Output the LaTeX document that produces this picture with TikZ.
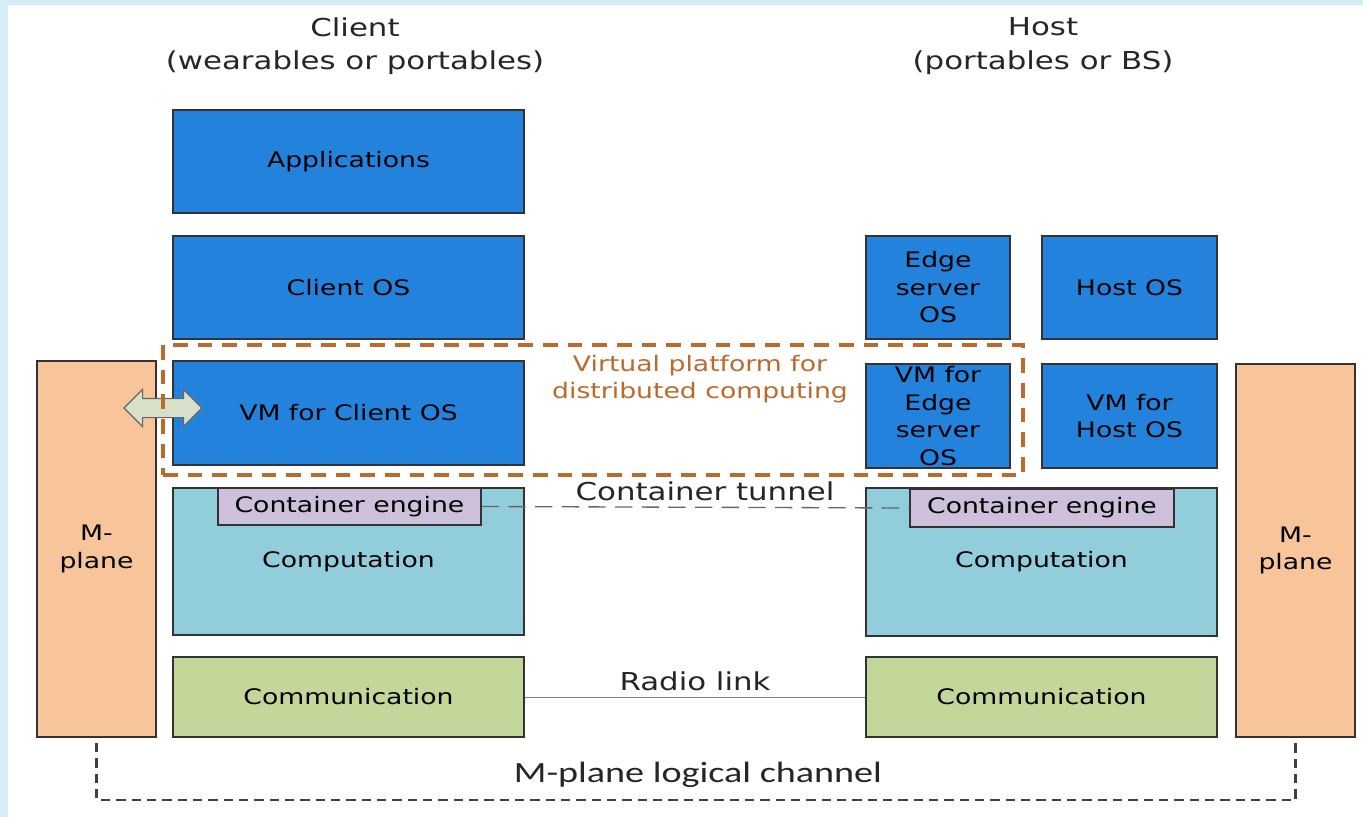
\documentclass[tikz,border=0pt]{standalone}
\usepackage{fontspec}
\setmainfont{DejaVu Sans}[FakeStretch=1.25]
\newfontfamily\chanfont{Carlito}[FakeStretch=1.3]
\usetikzlibrary{shapes.arrows,positioning}

\definecolor{frameblue}{HTML}{D5EDF4}
\definecolor{osblue}{HTML}{2383DC}
\definecolor{compblue}{HTML}{92CDDC}
\definecolor{engine}{HTML}{CCC0DA}
\definecolor{commgreen}{HTML}{C4D79B}
\definecolor{mpeach}{HTML}{F8C49A}
\definecolor{vporange}{HTML}{BC6A2C}
\definecolor{linkfill}{HTML}{D8E0CA}

\newcommand\boxfont{\fontsize{16}{20.6}\selectfont}
\newcommand\headfont{\fontsize{18.5}{25}\selectfont}
\newcommand\wirefont{\fontsize{18.5}{22}\selectfont}

\tikzset{
  sz/.style 2 args={minimum width=#1*0.75pt, minimum height=#2*0.75pt},
  blk/.style={draw=black!80, line width=1.1pt, font=\boxfont, align=center, inner sep=0pt},
  osbox/.style={blk, fill=osblue},
  compbox/.style={blk, fill=compblue},
  enginebox/.style={blk, fill=engine},
  commbox/.style={blk, fill=commgreen},
  mplanebox/.style={blk, fill=mpeach},
  vplat/.style={draw=vporange, line width=2.5pt, dash pattern=on 11pt off 7.5pt},
  heading/.style={font=\headfont, align=center, text=black!85},
  wirelabel/.style={font=\wirefont, text=black!85},
}

\begin{document}
\begin{tikzpicture}[x=0.75pt, y=-0.75pt]
% frame
\fill[frameblue] (0,0) rectangle (1363,817);
\fill[white] (8,5) rectangle (1363,817);
\useasboundingbox (0,0) rectangle (1363,817);

% headings
\node[heading] (client) at (355,46) {Client\\(wearables or portables)};
\node[heading] (host) at (1043,46) {Host\\(portables or BS)};

% client side
\node[osbox, sz={351}{103}] (apps) at (348.5,161.5) {Applications};
\node[osbox, sz={351}{103}] (clientos) at (348.5,287.5) {Client OS};
\node[osbox, sz={351}{104}] (vmclient) at (348.5,413) {VM for Client OS};
\node[compbox, sz={351}{147}] (compleft) at (348.5,561.5) {Computation};
\node[enginebox, sz={263}{37}] (engleft) at (349.5,506.5) {Container engine};
\node[commbox, sz={351}{80}] (commleft) at (348.5,697) {Communication};
\node[mplanebox, sz={119}{376}] (mpleft) at (96.5,549) {M-\\plane};

% host side
\node[osbox, sz={144}{103}] (edgeos) at (938,287.5) {Edge\\server\\OS};
\node[osbox, sz={175}{103}] (hostos) at (1129.5,287.5) {Host OS};
\node[osbox, sz={144}{104}] (vmedge) at (938,416) {VM for\\Edge\\server\\OS};
\node[osbox, sz={175}{104}] (vmhost) at (1129.5,416) {VM for\\Host OS};
\node[compbox, sz={351}{148}] (compright) at (1041.5,562) {Computation};
\node[enginebox, sz={264}{38}] (engright) at (1042,508) {Container engine};
\node[commbox, sz={351}{80}] (commright) at (1041.5,697) {Communication};
\node[mplanebox, sz={119}{373}] (mpright) at (1295.5,550.5) {M-\\plane};

% m-plane access
\node[double arrow, draw=black!60, fill=linkfill, line width=0.9pt,
      inner xsep=0pt, inner ysep=6.75pt,
      minimum height=58.5pt, double arrow head extend=6.75pt]
      (mpaccess) at (163,408) {};

% virtual platform
\node[vplat, sz={860}{130}] (vplatform) at (593,410) {};
\node[font=\boxfont, text=vporange, align=center] (vplabel) at (700,379)
  {Virtual platform for\\distributed computing};

% links
\draw[black!60, line width=1pt, dash pattern=on 13pt off 7pt] (engleft.east) -- (engright.west);
\node[wirelabel] (tunnel) at (705,491) {Container tunnel};
\draw[black!50, line width=0.7pt] (commleft.east) -- (commright.west);
\node[wirelabel] (radio) at (695,681) {Radio link};

\coordinate (chan) at (697,800);
\draw[black!75, line width=1.6pt, dash pattern=on 7pt off 4.5pt]
  ([yshift=-4pt]mpleft.south) |- (chan) -| (mpright.south);
\node[font=\chanfont\fontsize{22}{26}\selectfont, text=black!85] (chanlabel) at (698,775) {M-plane logical channel};
\end{tikzpicture}
\end{document}
